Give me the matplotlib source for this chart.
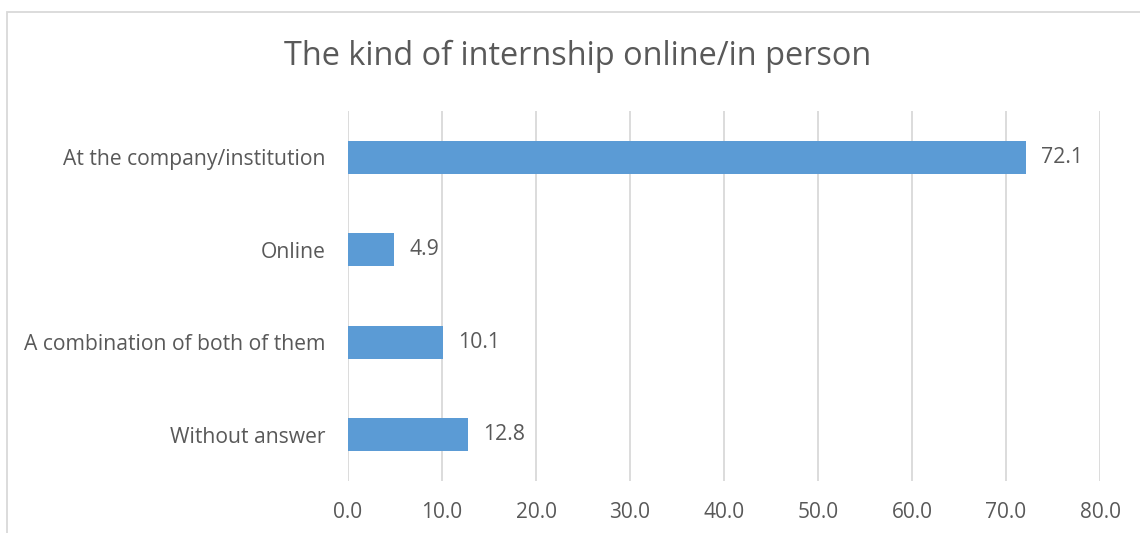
import matplotlib.pyplot as plt
from matplotlib.patches import Rectangle

# data
categories = ['At the company/institution', 'Online',
              'A combination of both of them', 'Without answer']
values = [72.1, 4.9, 10.1, 12.8]
xticks = [0, 10, 20, 30, 40, 50, 60, 70, 80]

text_color = '#595959'
bar_color = '#5B9BD5'
grid_color = '#D9D9D9'

plt.rcParams['font.family'] = ['Open Sans', 'DejaVu Sans']

fig = plt.figure(figsize=(11.4, 5.33), dpi=100)
ax = fig.add_axes([348/1140, 52/533, 752/1140, 370/533])

# top category first
pos = list(range(len(categories)))[::-1]
ax.barh(pos, values, height=0.36, color=bar_color, zorder=3)

for p, v in zip(pos, values):
    ax.annotate(f'{v:.1f}', (v, p), xytext=(11, 0), textcoords='offset points',
                va='center', ha='left', fontsize=15.3, color=text_color)

ax.set_xlim(0, 80)
ax.set_ylim(-0.5, len(categories) - 0.5)
ax.set_xticks(xticks)
ax.set_xticklabels([f'{t:.1f}' for t in xticks], fontsize=15, color=text_color)
ax.set_yticks(pos)
ax.set_yticklabels(categories, fontsize=15.2, color=text_color)
ax.tick_params(length=0)
ax.tick_params(axis='x', pad=15)
ax.tick_params(axis='y', pad=16)
ax.grid(axis='x', color=grid_color, linewidth=1.3, zorder=0)
for s in ax.spines.values():
    s.set_visible(False)

fig.text(578/1140, 1 - 56/533, 'The kind of internship online/in person',
         ha='center', va='center', fontsize=23.4, color=text_color)

# chart border, cut off at right and bottom as in the picture
fig.patches.append(Rectangle((7/1140, -0.1), 1.2, 1.1 - 12/533,
                             transform=fig.transFigure, fill=False,
                             edgecolor=grid_color, linewidth=1.3))

fig.savefig('out.png', dpi=100, facecolor='white')
